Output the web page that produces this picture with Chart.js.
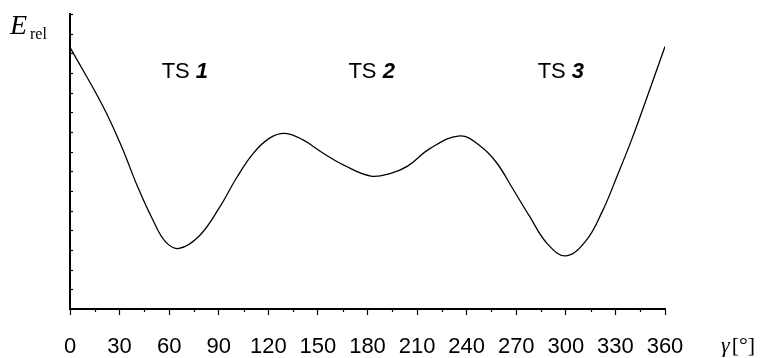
<!DOCTYPE html>
<html>
<head>
<meta charset="utf-8">
<script src="https://cdn.jsdelivr.net/npm/chart.js@4/dist/chart.umd.min.js"></script>
<style>
  html, body { margin: 0; padding: 0; background: #fff; }
  #wrap { width: 763px; height: 358px; }
</style>
</head>
<body>
<div id="wrap"><canvas id="energyChart"></canvas></div>
<script>
// dihedral angle gamma (deg) and relative energy (arbitrary units)
const angles = [0, 20, 31, 41, 50, 58, 66, 78, 90, 101, 111, 121, 130, 141, 153, 166, 182, 194, 204, 218, 236, 248, 258, 268, 278, 289, 300, 312, 322, 331, 340, 348, 360];
const energies = [13.3, 10.3, 8.3, 6.2, 4.55, 3.4, 3.08, 3.7, 5.1, 6.7, 7.93, 8.7, 8.93, 8.6, 7.93, 7.3, 6.76, 6.9, 7.25, 8.17, 8.8, 8.3, 7.45, 6.1, 4.72, 3.3, 2.7, 3.45, 4.95, 6.75, 8.65, 10.5, 13.35];
const xTicks = [0, 30, 60, 90, 120, 150, 180, 210, 240, 270, 300, 330, 360];
const tsLabels = ["1", "2", "3"];
const tsAngles = [69.5, 182.5, 297];
const tsEnergy = 12.05;

const points = angles.map((a, i) => ({ x: a, y: energies[i] }));

const extras = {
    id: "extras",
    afterDraw(chart) {
        const ctx = chart.ctx;
        const xs = chart.scales.x;
        const ys = chart.scales.y;
        const area = chart.chartArea;
        ctx.save();
        ctx.strokeStyle = "#000";
        ctx.lineWidth = 1.2;
        // minor ticks on x axis
        for (let v = 15; v < 360; v += 30) {
            const px = Math.round(xs.getPixelForValue(v)) + 0.5;
            ctx.beginPath();
            ctx.moveTo(px, area.bottom);
            ctx.lineTo(px, area.bottom + 3);
            ctx.stroke();
        }
        // small inward ticks on y axis
        for (let v = 0; v <= 15; v++) {
            const py = Math.round(ys.getPixelForValue(v)) + 0.5;
            ctx.beginPath();
            ctx.moveTo(area.left, py);
            ctx.lineTo(area.left + 3, py);
            ctx.stroke();
        }
        // TS labels
        ctx.fillStyle = "#000";
        ctx.textBaseline = "middle";
        tsLabels.forEach((n, i) => {
            const cx = xs.getPixelForValue(tsAngles[i]);
            const cy = ys.getPixelForValue(tsEnergy);
            ctx.font = "22px 'Liberation Sans', Arial, sans-serif";
            const w1 = ctx.measureText("TS ").width;
            ctx.font = "italic bold 22px 'Liberation Sans', Arial, sans-serif";
            const w2 = ctx.measureText(n).width;
            const x0 = cx - (w1 + w2) / 2;
            ctx.font = "22px 'Liberation Sans', Arial, sans-serif";
            ctx.textAlign = "left";
            ctx.fillText("TS ", x0, cy);
            ctx.font = "italic bold 22px 'Liberation Sans', Arial, sans-serif";
            ctx.fillText(n, x0 + w1, cy);
        });
        // axis titles
        ctx.textBaseline = "alphabetic";
        ctx.textAlign = "left";
        ctx.font = "italic 28px 'Liberation Serif', 'Times New Roman', serif";
        ctx.fillText("E", 10, 34);
        ctx.font = "16px 'Liberation Serif', 'Times New Roman', serif";
        ctx.fillText("rel", 30, 39);
        ctx.font = "italic 22px 'Liberation Serif', 'Times New Roman', serif";
        ctx.fillText("\u03b3", 721, 352);
        const gw = ctx.measureText("\u03b3").width;
        ctx.font = "22px 'Liberation Serif', 'Times New Roman', serif";
        ctx.fillText("[\u00b0]", 721 + gw + 2, 352);
        ctx.restore();
    }
};

new Chart(document.getElementById("energyChart").getContext("2d"), {
    type: "line",
    data: {
        datasets: [
            {
                data: points,
                borderColor: "#000",
                borderWidth: 1.3,
                pointRadius: 0,
                fill: false,
                tension: 0.4
            }
        ]
    },
    options: {
        responsive: true,
        maintainAspectRatio: false,
        animation: false,
        layout: { padding: { left: 70, right: 98, top: 14, bottom: 0 } },
        plugins: {
            legend: { display: false },
            tooltip: { enabled: false }
        },
        scales: {
            x: {
                type: "linear",
                min: 0,
                max: 360,
                afterBuildTicks: (scale) => {
                    scale.ticks = xTicks.map((v) => ({ value: v }));
                },
                afterFit: (scale) => {
                    scale.height = 49;
                },
                ticks: {
                    autoSkip: false,
                    maxRotation: 0,
                    padding: 21,
                    color: "#000",
                    font: { family: "'Liberation Sans', Arial, sans-serif", size: 22, lineHeight: 1 }
                },
                grid: {
                    drawOnChartArea: false,
                    drawTicks: true,
                    tickLength: 6,
                    tickWidth: 1.2,
                    color: "#000"
                },
                border: { color: "#000", width: 2 }
            },
            y: {
                min: 0,
                max: 15,
                ticks: { display: false, stepSize: 1 },
                grid: { drawOnChartArea: false, drawTicks: false },
                border: { color: "#000", width: 2 }
            }
        }
    },
    plugins: [extras]
});
</script>
</body>
</html>
